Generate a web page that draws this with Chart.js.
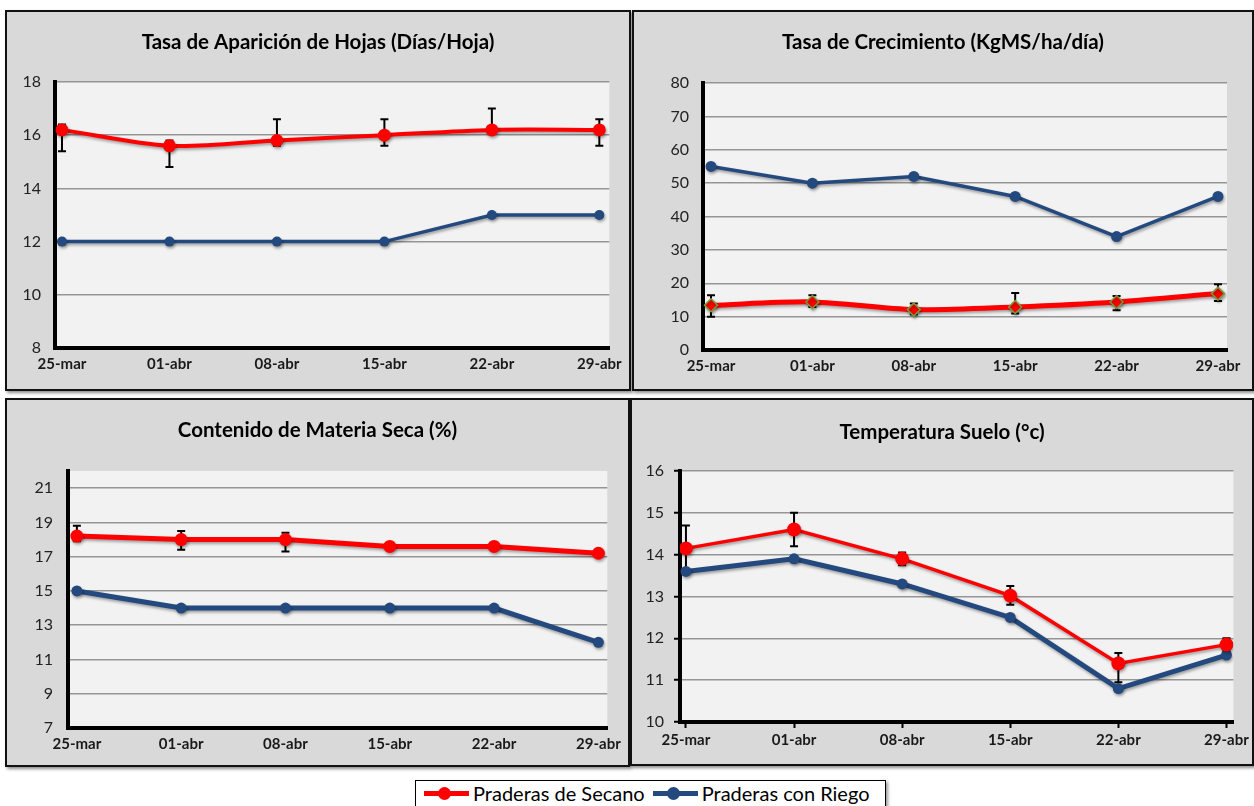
<!DOCTYPE html>
<html>
<head>
<meta charset="utf-8">
<script src="https://cdn.jsdelivr.net/npm/chart.js@4.4.1/dist/chart.umd.min.js"></script>
<style>
    body { margin: 0; background: #fff; width: 1254px; height: 806px; overflow: hidden; font-family: Lato, sans-serif; }
    .panel { position: absolute; box-sizing: border-box; border: 2px solid #111; background: #d9d9d9; box-shadow: 2px 2px 3px rgba(0,0,0,0.45); }
    .panel canvas { display: block; }
    #leyenda { position: absolute; left: 415px; top: 780px; width: 471px; height: 30px; box-sizing: border-box; border: 1.5px solid #000; background: #fff;
        box-shadow: 2px 2px 3px rgba(0,0,0,0.4); font-size: 20px; color: #000; display: flex; align-items: center; padding-left: 8px; padding-bottom: 4px; white-space: nowrap; }
    .muestra { display: inline-block; position: relative; width: 45px; height: 5px; margin-right: 4px; }
    .muestra i { position: absolute; left: 14px; top: -4px; width: 13px; height: 13px; border-radius: 50%; }
</style>
</head>
<body>
<div class="panel" style="left:5px;top:10px;width:626px;height:381px"><canvas id="chartHojas" width="622" height="377"></canvas></div>
<div class="panel" style="left:632px;top:10px;width:622px;height:381px"><canvas id="chartCrec" width="618" height="377"></canvas></div>
<div class="panel" style="left:5px;top:398px;width:625px;height:369px"><canvas id="chartMS" width="621" height="365"></canvas></div>
<div class="panel" style="left:630px;top:398px;width:624px;height:368px"><canvas id="chartTemp" width="620" height="364"></canvas></div>
<div id="leyenda">
    <span class="muestra" style="background:#ff0000"><i style="background:#ff0000"></i></span>Praderas de Secano
    <span class="muestra" style="background:#23497e;margin-left:8px"><i style="background:#23497e"></i></span>Praderas con Riego
</div>
<script>
// datos
var fechas = ['25-mar', '01-abr', '08-abr', '15-abr', '22-abr', '29-abr'];

var ticksHojas = [8, 10, 12, 14, 16, 18];
var hojasSecano = [16.2, 15.6, 15.8, 16.0, 16.2, 16.2];
var hojasSecanoMin = [15.4, 14.8, 15.6, 15.6, 16.1, 15.6];
var hojasSecanoMax = [16.4, 15.8, 16.6, 16.6, 17.0, 16.6];
var hojasRiego = [12, 12, 12, 12, 13, 13];

var ticksCrec = [0, 10, 20, 30, 40, 50, 60, 70, 80];
var crecSecano = [13.4, 14.4, 12.1, 12.9, 14.4, 16.9];
var crecSecanoMin = [10.0, 12.9, 10.6, 10.9, 11.9, 14.7];
var crecSecanoMax = [16.4, 16.4, 13.9, 17.1, 16.2, 19.7];
var crecRiego = [55, 50, 52, 46, 34, 46];

var ticksMS = [7, 9, 11, 13, 15, 17, 19, 21];
var msSecano = [18.2, 18.0, 18.0, 17.6, 17.6, 17.2];
var msSecanoMin = [17.9, 17.4, 17.3, 17.4, 17.5, 17.1];
var msSecanoMax = [18.8, 18.5, 18.4, 17.8, 17.7, 17.3];
var msRiego = [15, 14, 14, 14, 14, 12];

var ticksTemp = [10, 11, 12, 13, 14, 15, 16];
var tempSecano = [14.15, 14.6, 13.9, 13.02, 11.4, 11.85];
var tempSecanoMin = [13.65, 14.2, 13.75, 12.8, 10.95, 11.7];
var tempSecanoMax = [14.7, 15.0, 14.05, 13.25, 11.65, 12.0];
var tempRiego = [13.6, 13.9, 13.3, 12.5, 10.8, 11.6];

var ROJO = '#ff0000', AZUL = '#23497e';

// fondo del area de trazado
var fondoArea = {
    id: 'fondoArea',
    beforeDraw: function (chart) {
        var a = chart.chartArea, c = chart.ctx;
        c.save();
        c.fillStyle = '#f2f2f2';
        c.fillRect(a.left, a.top, a.right - a.left, a.bottom - a.top);
        c.restore();
    }
};
// barras de error (negras, con tope)
var barrasError = {
    id: 'barrasError',
    beforeDatasetsDraw: function (chart, args, opts) {
        var c = chart.ctx, sx = chart.scales.x, sy = chart.scales.y;
        c.save();
        c.strokeStyle = '#000';
        c.lineWidth = 2;
        for (var i = 0; i < opts.low.length; i++) {
            var px = sx.getPixelForValue(i);
            var y1 = sy.getPixelForValue(opts.low[i]), y2 = sy.getPixelForValue(opts.high[i]);
            c.beginPath();
            c.moveTo(px, y1); c.lineTo(px, y2);
            c.moveTo(px - 4, y1); c.lineTo(px + 4, y1);
            c.moveTo(px - 4, y2); c.lineTo(px + 4, y2);
            c.stroke();
        }
        c.restore();
    }
};
// sombra de las lineas
var sombra = {
    id: 'sombra',
    beforeDatasetDraw: function (chart) {
        var c = chart.ctx;
        c.save();
        c.shadowColor = 'rgba(0,0,0,0.35)';
        c.shadowBlur = 3;
        c.shadowOffsetX = 1;
        c.shadowOffsetY = 2;
    },
    afterDatasetDraw: function (chart) {
        chart.ctx.restore();
    }
};

function serie(valores, color, ancho, radio, tension, estilo) {
    return {
        data: valores.map(function (v, i) { return { x: i, y: v }; }),
        borderColor: color,
        backgroundColor: color,
        borderWidth: ancho,
        pointRadius: radio,
        pointHoverRadius: radio,
        pointBorderWidth: 0,
        pointStyle: estilo || 'circle',
        tension: tension
    };
}

function ejeX(min, max, alto, marcas, pad) {
    return {
        type: 'linear',
        min: min,
        max: max,
        afterBuildTicks: function (s) { s.ticks = fechas.map(function (f, i) { return { value: i }; }); },
        afterFit: function (s) { s.height = alto; },
        ticks: {
            callback: function (v) { return fechas[v]; },
            font: { family: 'Lato', weight: 'bold', size: 15 },
            color: '#1a1a1a',
            padding: pad,
            maxRotation: 0,
            autoSkip: false
        },
        grid: { drawOnChartArea: false, drawTicks: marcas, tickLength: 6, tickColor: '#000', tickWidth: 2 },
        border: { color: '#000', width: 4 }
    };
}

function ejeY(lista, ancho, marcas, pad, max) {
    return {
        min: lista[0],
        max: max !== undefined ? max : lista[lista.length - 1],
        afterFit: function (s) { s.width = ancho; },
        afterBuildTicks: function (s) { s.ticks = lista.map(function (v) { return { value: v }; }); },
        ticks: { padding: pad, font: { family: 'Lato', size: 16 }, color: '#222' },
        grid: { color: '#959595', lineWidth: 1.5, drawTicks: marcas, tickLength: 6, tickColor: '#000', tickWidth: 2 },
        border: { color: '#000', width: 4 }
    };
}

// el padding lateral va igual a los dos lados para que el titulo quede centrado en el panel
function crearGrafico(id, titulo, tituloArriba, tituloAbajo, padLado, datasets, low, high, escalaX, escalaY) {
    var ctx = document.getElementById(id).getContext('2d');
    return new Chart(ctx, {
        type: 'line',
        data: { datasets: datasets },
        options: {
            responsive: false,
            animation: false,
            layout: { padding: { left: padLado, right: padLado, top: 0, bottom: 0 } },
            plugins: {
                legend: { display: false },
                tooltip: { enabled: false },
                title: {
                    display: true,
                    text: titulo,
                    color: '#000',
                    font: { family: 'Lato', weight: 'bold', size: 20.5, lineHeight: 1.2 },
                    padding: { top: tituloArriba, bottom: tituloAbajo }
                },
                barrasError: { low: low, high: high }
            },
            scales: { x: escalaX, y: escalaY }
        },
        plugins: [fondoArea, barrasError, sombra]
    });
}

crearGrafico('chartHojas', 'Tasa de Aparición de Hojas (Días/Hoja)', 17.7, 27.7, 17,
    [serie(hojasSecano, ROJO, 4, 6.5, 0.3), serie(hojasRiego, AZUL, 3.5, 5, 0)],
    hojasSecanoMin, hojasSecanoMax,
    ejeX(-0.065, 5.093, 41, false, 7), ejeY(ticksHojas, 48 - 17, false, 14));

var dsCrec = serie(crecSecano, ROJO, 5, 6.5, 0.3, 'rectRot');
dsCrec.pointBorderWidth = 1.5;
dsCrec.pointBorderColor = '#7a9a3a';
crearGrafico('chartCrec', 'Tasa de Crecimiento (KgMS/ha/día)', 17.7, 28.7, 25,
    [dsCrec, serie(crecRiego, AZUL, 3.5, 5.5, 0)],
    crecSecanoMin, crecSecanoMax,
    ejeX(-0.079, 5.089, 39, false, 7), ejeY(ticksCrec, 69 - 25, false, 14));

crearGrafico('chartMS', 'Contenido de Materia Seca (%)', 17.7, 28.7, 15,
    [serie(msSecano, ROJO, 5, 6.5, 0), serie(msRiego, AZUL, 5, 5.5, 0)],
    msSecanoMin, msSecanoMax,
    ejeX(-0.085, 5.085, 37, false, 7), ejeY(ticksMS, 61 - 15, false, 15, 22));

crearGrafico('chartTemp', 'Temperatura Suelo (°c)', 19.7, 26.7, 14,
    [serie(tempSecano, ROJO, 3.5, 7, 0), serie(tempRiego, AZUL, 5, 5.5, 0)],
    tempSecanoMin, tempSecanoMax,
    ejeX(-0.055, 5.064, 42, true, 3), ejeY(ticksTemp, 48 - 14, true, 10));
</script>
</body>
</html>
